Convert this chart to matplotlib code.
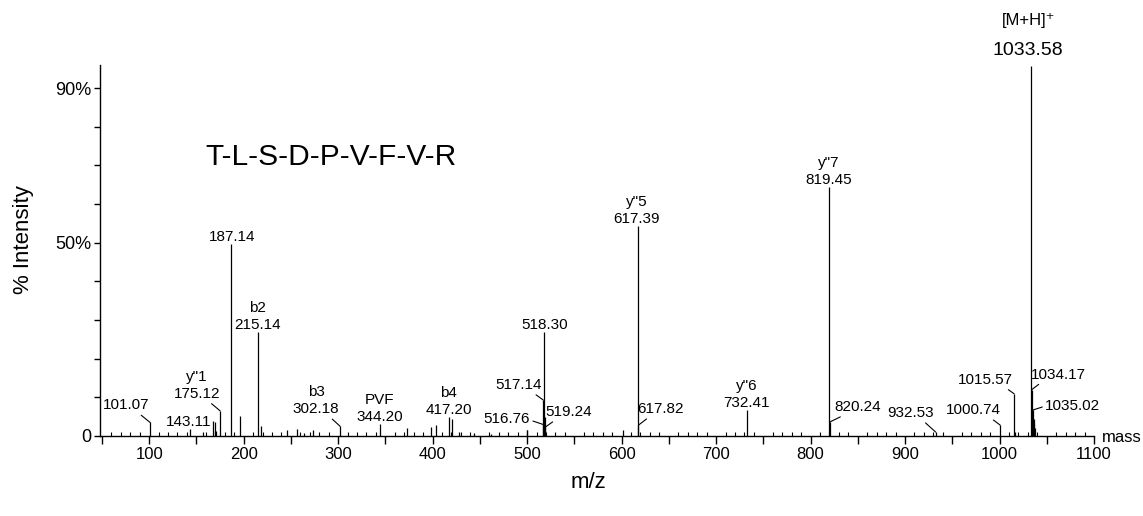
import matplotlib
matplotlib.use("Agg")
import matplotlib.pyplot as plt
from matplotlib.ticker import MultipleLocator, FixedLocator, FuncFormatter

plt.rcParams['font.family'] = ['Liberation Sans', 'DejaVu Sans']

# peak list: m/z and % intensity
mz = [101.07, 143.11, 157.0, 168.0, 170.0, 171.0, 175.12, 187.14, 196.4, 215.14, 218.6,
      246.0, 256.7, 264.0, 273.0, 302.18, 344.20, 373.0, 398.7, 404.0, 417.20, 421.0,
      428.0, 444.0, 462.0, 499.6, 500.4, 516.76, 517.14, 518.30, 518.8, 519.24, 601.0,
      617.39, 617.82, 732.41, 819.45, 820.24, 932.53, 1000.74, 1015.57, 1016.5,
      1033.58, 1034.17, 1035.02, 1035.6, 1036.1, 1036.6, 1037.1]
intensity = [3.5, 1.8, 1.0, 4.0, 3.6, 1.2, 6.5, 49.8, 5.2, 27.0, 2.6,
             1.5, 1.9, 0.9, 1.5, 2.5, 3.0, 2.0, 2.3, 2.8, 4.9, 4.4,
             1.1, 0.8, 0.6, 1.6, 1.6, 3.0, 9.3, 27.0, 5.0, 2.3, 1.5,
             54.4, 2.8, 6.7, 64.5, 3.6, 1.0, 2.8, 10.9, 1.0,
             95.8, 12.0, 6.7, 4.5, 4.3, 3.0, 2.0]

# annotated peaks and ion names
labeled = [101.07, 143.11, 175.12, 187.14, 215.14, 302.18, 344.20, 417.20, 516.76,
           517.14, 518.30, 519.24, 617.39, 617.82, 732.41, 819.45, 820.24, 932.53,
           1000.74, 1015.57, 1034.17, 1035.02, 1033.58]
ion_names = {175.12: 'y"1', 215.14: 'b2', 302.18: 'b3', 344.20: 'PVF', 417.20: 'b4',
             617.39: 'y"5', 732.41: 'y"6', 819.45: 'y"7', 1033.58: '[M+H]⁺'}

# label layout: offset in pixels (dx, dy) of label baseline, leader attach point (None = no leader)
layout = {
    101.07: (-24, 13, (0.75, 0)),
    143.11: (-1, 3, None),
    175.12: (-23, 13, (0.74, 0)),
    187.14: (1, 3, None),
    215.14: (0, 3, None),
    302.18: (-24, 13, (0.78, 0)),
    344.20: (0, 3, None),
    417.20: (0, 3, None),
    516.76: (-36, 1, (1.0, 0.45)),
    517.14: (-25, 11, (0.8, 0)),
    518.30: (0, 3, None),
    519.24: (23, 11, (0.25, 0)),
    617.39: (-1, 3, None),
    617.82: (22, 12, (0.28, 0)),
    732.41: (0, 3, None),
    819.45: (0, 3, None),
    820.24: (28, 11, (0.25, 0)),
    932.53: (-25, 15, (0.75, 0)),
    1000.74: (-27, 11, (0.8, 0)),
    1015.57: (-29, 10, (0.85, 0)),
    1034.17: (27, 11, (0.2, 0)),
    1035.02: (40, 0, (0.0, 0.5)),
    1033.58: (-3, 11, None),
}

fig = plt.figure(figsize=(11.43, 5.16), dpi=100)
ax = fig.add_axes([100 / 1143, 80 / 516, 994 / 1143, 371 / 516])

ax.vlines(mz, 0, intensity, color='black', lw=0.9)

for m in labeled:
    h = intensity[mz.index(m)]
    dx, dy, rel = layout[m]
    big = m == 1033.58
    fs = 14 if big else 11
    arrow = None
    if rel is not None:
        arrow = dict(arrowstyle='-', lw=0.8, color='black', shrinkA=0, shrinkB=0, relpos=rel)
    ax.annotate(f"{m:.2f}", xy=(m, h), xytext=(dx, dy), textcoords='offset pixels',
                ha='center', va='baseline', fontsize=fs, arrowprops=arrow,
                annotation_clip=False)
    if m in ion_names:
        up = 30 if big else 17
        ax.annotate(ion_names[m], xy=(m, h), xytext=(dx, dy + up), textcoords='offset pixels',
                    ha='center', va='baseline', fontsize=12 if big else 11,
                    annotation_clip=False)

ax.set_xlim(48, 1100)
ax.set_ylim(0, 96)

for s in ['top', 'right']:
    ax.spines[s].set_visible(False)
ax.spines['left'].set_linewidth(1)
ax.spines['bottom'].set_linewidth(1)

ax.xaxis.set_major_locator(MultipleLocator(50))
ax.xaxis.set_minor_locator(MultipleLocator(10))
ax.xaxis.set_major_formatter(FuncFormatter(lambda v, p: f"{int(v)}" if v % 100 == 0 else ""))
ax.tick_params(axis='x', which='major', direction='out', length=6, width=1, labelsize=12, pad=2)
ax.tick_params(axis='x', which='minor', direction='in', length=3, width=0.8)

ax.yaxis.set_major_locator(FixedLocator([0, 50, 90]))
ax.yaxis.set_minor_locator(FixedLocator([10, 20, 30, 40, 60, 70, 80]))
ax.yaxis.set_major_formatter(FuncFormatter(lambda v, p: "0" if v == 0 else f"{int(v)}%"))
ax.tick_params(axis='y', which='both', direction='out', length=4, width=1, labelsize=13, pad=2)

fig.text(331 / 1143, 1 - 157 / 516, "T-L-S-D-P-V-F-V-R", fontsize=21.5, ha='center', va='center')
fig.text(1102 / 1143, 1 - 437 / 516, "mass", fontsize=12, ha='left', va='center')
fig.text(588 / 1143, 1 - 483 / 516, "m/z", fontsize=16, ha='center', va='center')
fig.text(23 / 1143, 1 - 240 / 516, "% Intensity", fontsize=16, rotation=90, ha='center', va='center')

fig.savefig("out.png", dpi=100)
